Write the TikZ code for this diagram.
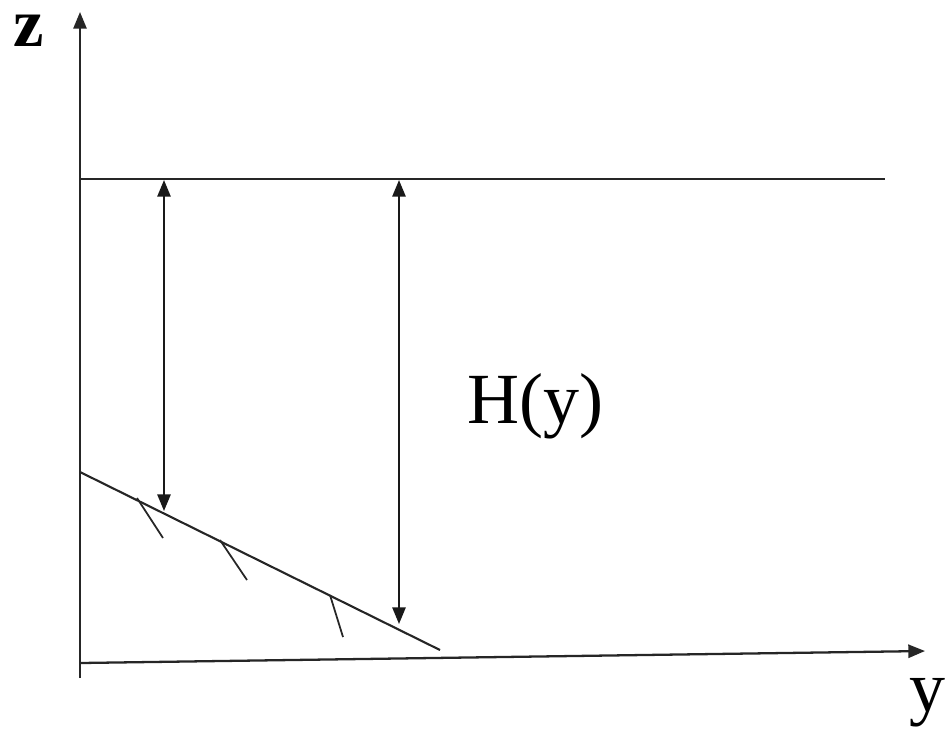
\documentclass[tikz,border=0pt]{standalone}
\usepackage{fontspec}
\setmainfont{Liberation Serif}
\usepackage{tikz}
\usetikzlibrary{arrows.meta,calc}
\tikzset{
  >={Triangle[length=9.5pt,width=7.5pt]},
  axis/.style={->,line width=1.3pt,black!85},
  level/.style={line width=1.2pt,black!85},
  depth/.style={<->,line width=1.3pt,black!90},
  hatch/.style={line width=1pt,black!85},
  biglabel/.style={font=\fontsize{41}{48}\selectfont,inner sep=0pt,anchor=base},
}

\begin{document}
\begin{tikzpicture}[x=0.02cm,y=-0.02cm]
  \useasboundingbox (0,0) rectangle (945,738);
  % axes
  \coordinate (O) at (80,663);
  \coordinate (Zend) at (80,12);
  \coordinate (Zlow) at (80,678);
  \coordinate (Yend) at (925,651);
  \draw[axis] (Zlow) -- (Zend);
  \draw[axis] (O) -- (Yend);
  \node[biglabel,font=\fontsize{39}{46}\selectfont\bfseries] (zlab) at (29,46) {z};
  \node[biglabel] (ylab) at (927,711) {y};
  % free surface
  \coordinate (S0) at (80,179);
  \coordinate (S1) at (885,179);
  \draw[level] (S0) -- (S1);
  % sloping bottom
  \coordinate (B0) at (80,472);
  \coordinate (B1) at (440,650);
  \draw[level] (B0) -- (B1);
  \draw[hatch] (137,498) -- (163,538);
  \draw[hatch] (220,540) -- (247,580);
  \draw[hatch] (330,595) -- (343,637);
  % depths
  \coordinate (A0) at (164,180);
  \coordinate (A1) at (164,511);
  \coordinate (D0) at (399,180);
  \coordinate (D1) at (399,624);
  \draw[depth] (A0) -- (A1);
  \draw[depth] (D0) -- (D1);
  \node[biglabel] (hlab) at (535,423) {H(y)};
\end{tikzpicture}
\end{document}
